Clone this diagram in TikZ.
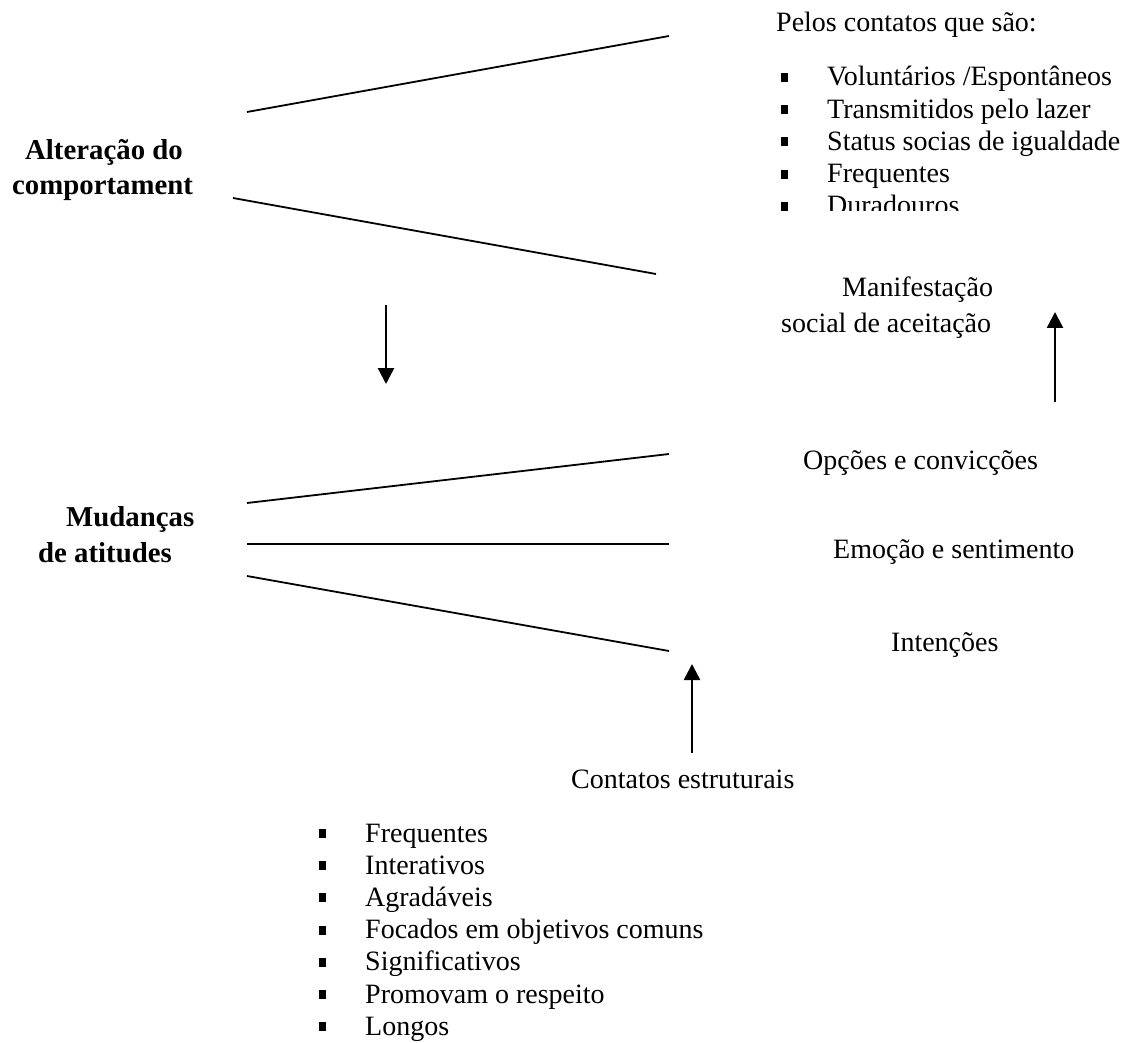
\documentclass[tikz,border=0pt]{standalone}
\usepackage{fontspec}
\setmainfont{Liberation Serif}
\usetikzlibrary{arrows.meta}
\begin{document}
\begin{tikzpicture}[x=1pt,y=-1pt,
  txt/.style={anchor=base west,inner sep=0pt,font=\fontsize{28}{32}\selectfont},
  btxt/.style={txt,font=\fontsize{28.8}{32}\selectfont\bfseries},
  bul/.style={fill=black},
  ray/.style={line width=1.8pt},
  arr/.style={line width=2.4pt,-{Triangle[width=16pt,length=16pt]}}]
\useasboundingbox[fill=white] (0,0) rectangle (1128,1043);
% left labels
\node[btxt] (alt1) at (25,160) {Alteração do};
\node[btxt] (alt2) at (12,195) {comportament};
\node[btxt] (mud1) at (66,526) {Mudanças};
\node[btxt] (mud2) at (38,562) {de atitudes};
% top rays
\coordinate (a1) at (247,112); \coordinate (b1) at (669,36);
\coordinate (a2) at (233,198); \coordinate (b2) at (656,274);
\draw[ray] (a1) -- (b1);
\draw[ray] (a2) -- (b2);
% middle rays
\coordinate (c1) at (247,503); \coordinate (d1) at (669,454);
\coordinate (c2) at (247,544); \coordinate (d2) at (669,544);
\coordinate (c3) at (247,576); \coordinate (d3) at (669,651);
\draw[ray] (c1) -- (d1);
\draw[ray] (c2) -- (d2);
\draw[ray] (c3) -- (d3);
% top list
\node[txt] (pelos) at (776,32) {Pelos contatos que são:};
\begin{scope}
\clip (700,0) rectangle (1128,211);
\foreach \t [count=\i] in {Voluntários /Espontâneos,Transmitidos pelo lazer,Status socias de igualdade,Frequentes,Duradouros}{
  \node[txt] (top\i) at (827,{86+32.2*(\i-1)}) {\t};
  \fill[bul] (780.5,{86+32.2*(\i-1)-13}) rectangle ++(7,9);
}
\end{scope}
% right labels
\node[txt] (man1) at (842,297) {Manifestação};
\node[txt] (man2) at (781,333) {social de aceitação};
\node[txt] (opc) at (803,469) {Opções e convicções};
\node[txt] (emo) at (833,558) {Emoção e sentimento};
\node[txt] (int) at (891,651) {Intenções};
\node[txt] (cont) at (571,788) {Contatos estruturais};
% bottom list
\foreach \t [count=\i] in {Frequentes,Interativos,Agradáveis,Focados em objetivos comuns,Significativos,Promovam o respeito,Longos}{
  \node[txt] (bot\i) at (365,{842+32.2*(\i-1)}) {\t};
  \fill[bul] (318.5,{842+32.2*(\i-1)-13}) rectangle ++(7,9);
}
% arrows
\coordinate (p1) at (386,305); \coordinate (q1) at (386,384);
\coordinate (p2) at (1055,402); \coordinate (q2) at (1055,312);
\coordinate (p3) at (692,753); \coordinate (q3) at (692,664);
\draw[arr] (p1) -- (q1);
\draw[arr] (p2) -- (q2);
\draw[arr] (p3) -- (q3);
\end{tikzpicture}
\end{document}
